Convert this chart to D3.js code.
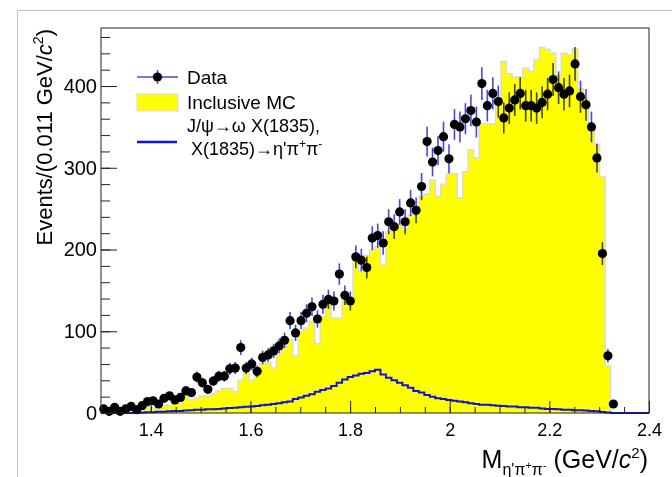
<!DOCTYPE html>
<html>
<head>
<meta charset="utf-8">
<script src="https://cdn.jsdelivr.net/npm/d3@7.9.0/dist/d3.min.js"></script>
<style>
  body { margin: 0; background: #fff; }
  svg { display: block; }
  text { font-family: "Liberation Sans", Arial, Helvetica, sans-serif; fill: #000; }
</style>
</head>
<body>
<svg id="chart" width="672" height="477"></svg>
<script>
// histogram binning: 100 bins of 0.011 GeV from 1.3 to 2.4
const xMin = 1.3, xMax = 2.4, binWidth = 0.011;

// data counts per bin (bins 94-99 are empty)
const dataCounts = [5, 2, 7, 2, 5, 8, 4, 9, 14, 15, 11, 18, 21, 16, 19, 27, 25, 44, 37, 29,
  39, 45, 45, 54, 55, 80, 55, 60, 51, 68, 71, 76, 82, 89, 113, 98, 113, 122, 130, 115,
  133, 139, 137, 170, 144, 137, 191, 187, 178, 214, 217, 208, 234, 228, 246, 234, 257, 248, 277, 332,
  307, 321, 338, 311, 353, 350, 360, 370, 356, 403, 376, 391, 381, 361, 373, 383, 391, 376, 376, 373,
  380, 390, 408, 398, 390, 394, 427, 387, 377, 350, 312, 195, 70, 11];

// inclusive MC (yellow)
const inclusiveMC = [0, 0, 0, 0, 0, 3, 1, 0, 8, 6, 5, 10, 9, 14, 12, 32, 16, 18, 21, 20,
  24, 27, 30, 30, 26, 40, 52, 40, 55, 60, 62, 55, 72, 80, 90, 70, 100, 104, 112, 85,
  118, 135, 116, 116, 138, 138, 190, 173, 193, 199, 203, 181, 222, 228, 230, 225, 242, 244, 265, 268,
  285, 265, 280, 293, 293, 263, 295, 322, 312, 354, 354, 354, 385, 430, 415, 411, 411, 422, 418, 432,
  447, 445, 440, 413, 440, 438, 446, 397, 385, 350, 328, 289, 58, 0, 0, 0, 0, 0, 0, 0];

// signal MC J/psi -> omega X(1835) (blue)
const signalMC = [0, 0, 0, 0, 0, 0, 0, 0.5, 1, 1, 1.5, 1.5, 2, 2.5, 2.5, 3, 3.5, 4, 4, 4.5,
  4.5, 5, 5.5, 6, 6.5, 7, 7.5, 8, 8.5, 9.5, 10, 11, 12, 13, 14, 17, 19, 21, 23, 26,
  28, 30, 33, 37, 41, 44, 46, 48, 49, 51, 53, 47, 43, 40, 37, 34, 31, 27, 25, 22,
  20, 18, 17, 16, 15, 14, 13, 12, 11, 10, 10, 9.5, 9, 8.5, 8, 8, 7, 7, 6.5, 6.5,
  5.5, 5, 5, 4.5, 4, 4, 3.5, 3.5, 3, 2.5, 2, 1.2, 0.5, 0, 0, 0, 0, 0, 0, 0];

const xMajorTicks = [1.4, 1.6, 1.8, 2.0, 2.2, 2.4];
const xMinorTicks = d3.range(1.3, 2.4001, 0.05).map(v => +v.toFixed(2));
const yMajorTicks = [0, 100, 200, 300, 400];
const yMinorTicks = d3.range(0, 471, 20);

const frame = { left: 101, right: 649, top: 28, bottom: 413 };

const svg = d3.select('#chart');

// faint page border like the original canvas
svg.append('path')
    .attr('d', 'M17.5,477 V10.5 H672')
    .attr('fill', 'none')
    .attr('stroke', '#c4c4c4')
    .attr('stroke-width', 1);

const x = d3.scaleLinear().domain([xMin, xMax]).range([frame.left, frame.right]);
const y = d3.scaleLinear().domain([0, 471]).range([frame.bottom, frame.top]);

// turn bin values into step points (left edge + closing edge)
function toSteps(values) {
    const pts = values.map((v, i) => ({ e: xMin + i * binWidth, v: v }));
    pts.push({ e: xMax, v: values[values.length - 1] });
    return pts;
}

const plot = svg.append('g');

// inclusive MC filled histogram
const mcSteps = toSteps(inclusiveMC);
plot.append('path')
    .datum(mcSteps)
    .attr('fill', '#ffff00')
    .attr('d', d3.area()
        .x(d => x(d.e))
        .y0(y(0))
        .y1(d => y(d.v))
        .curve(d3.curveStepAfter));
plot.append('path')
    .datum(mcSteps)
    .attr('fill', 'none')
    .attr('stroke', '#dadada')
    .attr('stroke-width', 1.5)
    .attr('d', d3.line()
        .x(d => x(d.e))
        .y(d => y(d.v))
        .curve(d3.curveStepAfter));

// signal MC line
plot.append('path')
    .datum(toSteps(signalMC))
    .attr('fill', 'none')
    .attr('stroke', '#1010e8')
    .attr('stroke-width', 2)
    .attr('d', d3.line()
        .x(d => x(d.e))
        .y(d => y(d.v))
        .curve(d3.curveStepAfter));

// axes
const xAxisMinor = d3.axisBottom(x).tickValues(xMinorTicks).tickSize(-6).tickFormat('');
const xAxisMajor = d3.axisBottom(x).tickValues(xMajorTicks).tickSize(-12).tickPadding(10)
    .tickFormat(d => d === 2 ? '2' : d3.format('.1f')(d));
const yAxisMinor = d3.axisLeft(y).tickValues(yMinorTicks).tickSize(-9).tickFormat('');
const yAxisMajor = d3.axisLeft(y).tickValues(yMajorTicks).tickSize(-16).tickPadding(4);

function styleAxis(g, size) {
    g.select('.domain').remove();
    g.selectAll('line').attr('stroke', '#222').attr('stroke-width', 1);
    g.selectAll('text').attr('font-size', size).attr('fill', '#000')
        .style('font-family', '"Liberation Sans", Arial, sans-serif');
}

svg.append('g').attr('transform', `translate(0,${frame.bottom})`).call(xAxisMinor).call(g => styleAxis(g, 18));
svg.append('g').attr('transform', `translate(0,${frame.bottom})`).call(xAxisMajor).call(g => styleAxis(g, 18));
svg.append('g').attr('transform', `translate(${frame.left},0)`).call(yAxisMinor).call(g => styleAxis(g, 20));
svg.append('g').attr('transform', `translate(${frame.left},0)`).call(yAxisMajor).call(g => styleAxis(g, 20));

// data points with sqrt(N) error bars
const dataPts = dataCounts.map((v, i) => ({ m: xMin + (i + 0.5) * binWidth, v: v }));
plot.append('g')
    .selectAll('line')
    .data(dataPts)
    .join('line')
    .attr('x1', d => x(d.m))
    .attr('x2', d => x(d.m))
    .attr('y1', d => y(d.v - Math.sqrt(d.v)))
    .attr('y2', d => y(d.v + Math.sqrt(d.v)))
    .attr('stroke', '#4646e6')
    .attr('stroke-width', 1.6)
    .style('mix-blend-mode', 'multiply');
plot.append('g')
    .selectAll('circle')
    .data(dataPts)
    .join('circle')
    .attr('cx', d => x(d.m))
    .attr('cy', d => y(d.v))
    .attr('r', 4.6)
    .attr('fill', '#000');

// frame
svg.append('rect')
    .attr('x', frame.left)
    .attr('y', frame.top)
    .attr('width', frame.right - frame.left)
    .attr('height', frame.bottom - frame.top)
    .attr('fill', 'none')
    .attr('stroke', '#222')
    .attr('stroke-width', 1);

// axis titles
const xTitle = svg.append('text')
    .attr('x', 648)
    .attr('y', 468)
    .attr('text-anchor', 'end')
    .attr('font-size', 25);
xTitle.append('tspan').text('M');
xTitle.append('tspan').attr('font-size', 16).attr('dy', 7).text('η\'π');
xTitle.append('tspan').attr('font-size', 11).attr('dy', -6).text('+');
xTitle.append('tspan').attr('font-size', 16).attr('dy', 6).text('π');
xTitle.append('tspan').attr('font-size', 11).attr('dy', -6).text('-');
xTitle.append('tspan').attr('dy', -1).text(' (GeV/');
xTitle.append('tspan').attr('font-style', 'italic').text('c');
xTitle.append('tspan').attr('font-size', 15).attr('dy', -10).text('2');
xTitle.append('tspan').attr('dy', 10).text(')');

const yTitle = svg.append('text')
    .attr('transform', 'translate(52,29) rotate(-90)')
    .attr('text-anchor', 'end')
    .attr('font-size', 22);
yTitle.append('tspan').text('Events/(0.011 GeV/');
yTitle.append('tspan').attr('font-style', 'italic').text('c');
yTitle.append('tspan').attr('font-size', 14).attr('dy', -9).text('2');
yTitle.append('tspan').attr('dy', 9).text(')');

// legend
const legend = svg.append('g');
legend.append('line').attr('x1', 137).attr('x2', 178).attr('y1', 77).attr('y2', 77)
    .attr('stroke', '#4646e6').attr('stroke-width', 1.5);
legend.append('line').attr('x1', 157.5).attr('x2', 157.5).attr('y1', 70).attr('y2', 84)
    .attr('stroke', '#4646e6').attr('stroke-width', 1.5);
legend.append('circle').attr('cx', 157.5).attr('cy', 77).attr('r', 4.6).attr('fill', '#000');
legend.append('text').attr('x', 187).attr('y', 77).attr('dy', '0.35em').attr('font-size', 19).text('Data');

legend.append('rect').attr('x', 137).attr('y', 94).attr('width', 41).attr('height', 17)
    .attr('fill', '#ffff00').attr('stroke', '#dadada').attr('stroke-width', 1);
legend.append('text').attr('x', 187).attr('y', 102.5).attr('dy', '0.35em').attr('font-size', 19).text('Inclusive MC');

legend.append('line').attr('x1', 137).attr('x2', 177).attr('y1', 142).attr('y2', 142)
    .attr('stroke', '#1010e8').attr('stroke-width', 2.5);
legend.append('text').attr('x', 187).attr('y', 126).attr('dy', '0.35em').attr('font-size', 18)
    .text('J/ψ→ω X(1835),');
const l2 = legend.append('text').attr('x', 191).attr('y', 149).attr('dy', '0.35em').attr('font-size', 18);
l2.append('tspan').text('X(1835)→η\'π');
l2.append('tspan').attr('font-size', 12).attr('dy', -7).text('+');
l2.append('tspan').attr('dy', 7).text('π');
l2.append('tspan').attr('font-size', 12).attr('dy', -7).text('-');
</script>
</body>
</html>
